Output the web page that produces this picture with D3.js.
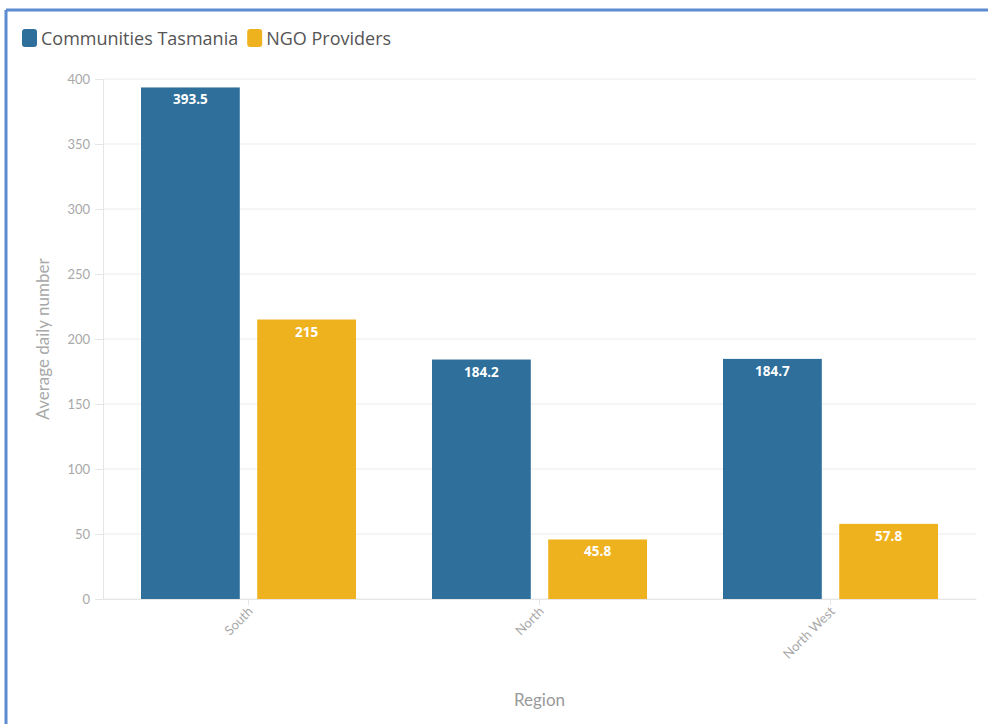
<!DOCTYPE html>
<html>
<head>
<meta charset="utf-8">
<script src="https://cdn.jsdelivr.net/npm/d3@7"></script>
<style>
  body { margin: 0; background: #fff; }
  svg { display: block; font-family: "Open Sans", Lato, sans-serif; }
</style>
</head>
<body>
<div id="chart"></div>
<script>
const regions = ["South", "North", "North West"];
const seriesNames = ["Communities Tasmania", "NGO Providers"];
const communitiesTasmania = [393.5, 184.2, 184.7];
const ngoProviders = [215, 45.8, 57.8];
const yTicks = [0, 50, 100, 150, 200, 250, 300, 350, 400];
const colors = ["#2e6f9b", "#efb21f"];

const width = 988, height = 724;
const margin = { top: 79, right: 12, bottom: 125, left: 103 };

const rows = regions.map((r, i) => ({
  region: r,
  values: [communitiesTasmania[i], ngoProviders[i]]
}));

const svg = d3.select("#chart")
  .append("svg")
  .attr("width", width)
  .attr("height", height);

// frame
svg.append("line")
  .attr("x1", 6).attr("x2", width).attr("y1", 10).attr("y2", 10)
  .attr("stroke", "#5b8bd0").attr("stroke-width", 3);
svg.append("line")
  .attr("x1", 6).attr("x2", 6).attr("y1", 10).attr("y2", height)
  .attr("stroke", "#5b8bd0").attr("stroke-width", 3);

const x0 = d3.scaleBand()
  .domain(regions)
  .range([margin.left, width - margin.right]);

const x1 = d3.scaleBand()
  .domain(seriesNames)
  .range([38, x0.bandwidth() - 38])
  .paddingInner(0.15);

const y = d3.scaleLinear()
  .domain([0, 400])
  .range([height - margin.bottom, margin.top]);

// grid
svg.append("g")
  .selectAll("line")
  .data(yTicks)
  .join("line")
  .attr("x1", margin.left)
  .attr("x2", width - margin.right)
  .attr("y1", d => y(d))
  .attr("y2", d => y(d))
  .attr("stroke", "#ececec");

// y axis
const yAxis = svg.append("g")
  .attr("transform", `translate(${margin.left},0)`)
  .call(d3.axisLeft(y).tickValues(yTicks).tickSize(8).tickPadding(5));
yAxis.select(".domain").attr("stroke", "#e6e6e6");
yAxis.selectAll(".tick line").attr("stroke", "#e6e6e6");
yAxis.selectAll(".tick text")
  .attr("fill", "#a8a8a8")
  .style("font-size", "13px")
  .style("font-family", "Lato, sans-serif");

// x axis
const xAxis = svg.append("g")
  .attr("transform", `translate(0,${y(0)})`)
  .call(d3.axisBottom(x0).tickSize(6).tickSizeOuter(0));
xAxis.select(".domain").attr("stroke", "#e6e6e6");
xAxis.selectAll(".tick line").attr("stroke", "#e6e6e6");
xAxis.selectAll(".tick text")
  .attr("fill", "#a8a8a8")
  .style("font-size", "13px")
  .style("font-family", "Lato, sans-serif")
  .attr("text-anchor", "end")
  .attr("x", 0)
  .attr("y", 0)
  .attr("dy", "0.35em")
  .attr("transform", "translate(2,10) rotate(-45)");

// bars
const groups = svg.append("g")
  .selectAll("g")
  .data(rows)
  .join("g")
  .attr("transform", d => `translate(${x0(d.region)},0)`);

const cells = groups.selectAll("g")
  .data(d => d.values.map((v, i) => ({ key: seriesNames[i], value: v, i })))
  .join("g");

cells.append("rect")
  .attr("x", d => x1(d.key))
  .attr("y", d => y(d.value))
  .attr("width", x1.bandwidth())
  .attr("height", d => y(0) - y(d.value))
  .attr("fill", d => colors[d.i]);

cells.append("text")
  .attr("x", d => x1(d.key) + x1.bandwidth() / 2)
  .attr("y", d => y(d.value) + 17)
  .attr("text-anchor", "middle")
  .attr("fill", "#fff")
  .style("font-size", "13.5px")
  .style("font-weight", "bold")
  .text(d => d.value);

// axis titles
svg.append("text")
  .attr("transform", `translate(49,${(y(0) + y(400)) / 2}) rotate(-90)`)
  .attr("text-anchor", "middle")
  .attr("fill", "#a8a8a8")
  .style("font-size", "17px")
  .style("font-family", "Lato, sans-serif")
  .text("Average daily number");

svg.append("text")
  .attr("x", (margin.left + width - margin.right) / 2)
  .attr("y", 706)
  .attr("text-anchor", "middle")
  .attr("fill", "#999")
  .style("font-size", "17px")
  .style("font-family", "Lato, sans-serif")
  .text("Region");

// legend
const legend = svg.append("g").attr("transform", "translate(22,29)");
let lx = 0;
seriesNames.forEach((name, i) => {
  const g = legend.append("g").attr("transform", `translate(${lx},0)`);
  g.append("rect")
    .attr("width", 15).attr("height", 18)
    .attr("rx", 3)
    .attr("fill", colors[i]);
  const t = g.append("text")
    .attr("x", 19).attr("y", 16)
    .attr("fill", "#555")
    .style("font-size", "18px")
    .text(name);
  lx += 19 + t.node().getComputedTextLength() + 9;
});
</script>
</body>
</html>
